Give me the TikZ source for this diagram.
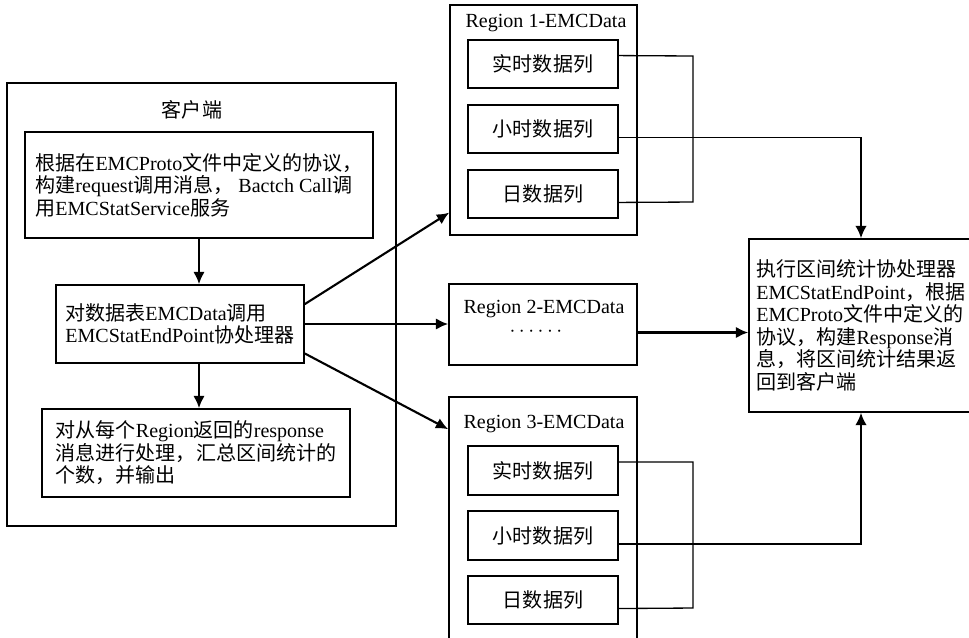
\documentclass[tikz,border=0pt]{standalone}
\usepackage{fontspec}
\usepackage{tikz}
\usetikzlibrary{calc,arrows.meta}
\setmainfont{Liberation Serif}
\newfontfamily\cjk{Noto Sans CJK SC}

% passage automatique a la fonte chinoise
\XeTeXinterchartokenstate=1
\newXeTeXintercharclass\zhclass
\newcount\zhcode
\def\zhrange#1#2{\zhcode=#1\relax
  \loop\XeTeXcharclass\zhcode=\zhclass
  \ifnum\zhcode<#2\advance\zhcode by 1\repeat}
\zhrange{"3000}{"303F}
\zhrange{"4E00}{"9FFF}
\zhrange{"FF00}{"FFEF}
\XeTeXinterchartoks 0 \zhclass = {\cjk}
\XeTeXinterchartoks 4095 \zhclass = {\cjk}
\XeTeXinterchartoks \zhclass 0 = {\rmfamily}
\XeTeXinterchartoks \zhclass 4095 = {\rmfamily}

\begin{document}
\begin{tikzpicture}[x=0.02cm, y=-0.02cm, font=\fontsize{11.4}{12.8}\selectfont]
			\tikzset{boite/.style={draw=black, line width=0.95pt, inner sep=0pt}, fleche/.style={>={Latex[length=7pt,width=6.5pt]}, ->, line width=1.2pt}, trait/.style={line width=0.75pt}};

			\useasboundingbox (0,0) rectangle (969,637);

			\node[boite, minimum width=7.78cm, minimum height=8.86cm] (client) at (201.5, 304.5) {};
			\node (titreclient) at (192, 110) {客户端};
			\node[boite, minimum width=6.96cm, minimum height=2.12cm, align=left] (proto) at (199, 185) {根据在EMCProto文件中定义的协议，\\构建request调用消息， Bactch Call调\\用EMCStatService服务};
			\node[boite, minimum width=4.96cm, minimum height=1.56cm, align=left] (appel) at (180, 324) {对数据表EMCData调用\\EMCStatEndPoint协处理器};
			\node[boite, minimum width=6.16cm, minimum height=1.76cm, align=left] (bilan) at (196, 453) {对从每个Region返回的response\\消息进行处理，汇总区间统计的\\个数，并输出};

			\node[boite, minimum width=3.74cm, minimum height=4.6cm] (reg1) at (543.5, 120) {};
			\node (titre1) at (546,  23) {Region 1-EMCData};
			\node[boite, minimum width=3cm, minimum height=0.96cm] (r1a) at (543,  64) {实时数据列};
			\node[boite, minimum width=3cm, minimum height=0.96cm] (r1b) at (543, 129) {小时数据列};
			\node[boite, minimum width=3cm, minimum height=0.96cm] (r1c) at (543, 194) {日数据列};

			\node[boite, minimum width=3.76cm, minimum height=1.62cm] (reg2) at (543, 324.5) {};
			\node (titre2) at (544, 309) {Region 2-EMCData};
			\node[font=\fontsize{12.5}{13}\selectfont] (points) at (536, 332) {$\cdots\cdots$};

			\node[boite, minimum width=3.76cm, minimum height=5.26cm] (reg3) at (543, 528.5) {};
			\node (titre3) at (544, 424) {Region 3-EMCData};
			\node[boite, minimum width=3cm, minimum height=0.97cm] (r3a) at (543, 470.5) {实时数据列};
			\node[boite, minimum width=3cm, minimum height=0.97cm] (r3b) at (543, 535.5) {小时数据列};
			\node[boite, minimum width=3cm, minimum height=0.97cm] (r3c) at (543, 600) {日数据列};

			\node[boite, minimum width=4.48cm, minimum height=3.46cm, align=left] (exec) at (861, 325.5) {执行区间统计协处理器\\EMCStatEndPoint，根据\\EMCProto文件中定义的\\协议，构建Response消\\息，将区间统计结果返\\回到客户端};

			% dans le client
			\draw[fleche] (proto.south) -- (proto.south |- appel.north);
			\draw[fleche] (appel.south -| proto.south) -- (proto.south |- bilan.north);

			% vers les regions
			\draw[fleche] ($(appel.north east)!0.25!(appel.south east)$) to ($(reg1.north west)!0.9!(reg1.south west)$);
			\draw[fleche] (appel.east) to (appel.east -| reg2.west);
			\draw[fleche] ($(appel.north east)!0.87!(appel.south east)$) to ($(reg3.north west)+(0,33)$);

			% colonnes de la region 1
			\coordinate (s1a) at ($(r1a.north east)!0.33!(r1a.south east)$);
			\coordinate (s1b) at ($(r1b.north east)!0.67!(r1b.south east)$);
			\coordinate (s1c) at ($(r1c.north east)!0.67!(r1c.south east)$);
			\draw[trait] (s1a) -- (693, 56) -- (693, 202) -- (s1c);
			\draw[fleche, line width=1pt] (s1b) -| (exec.north);

			% colonnes de la region 3
			\coordinate (s3a) at ($(r3a.north east)!0.33!(r3a.south east)$);
			\coordinate (s3b) at ($(r3b.north east)!0.67!(r3b.south east)$);
			\coordinate (s3c) at ($(r3c.north east)!0.67!(r3c.south east)$);
			\draw[trait] (s3a) -- (693, 462) -- (693, 608) -- (s3c);
			\draw[fleche, line width=1pt] (s3b) -| (exec.south);

			% region 2
			\coordinate (s2) at ($(reg2.east)+(0,8)$);
			\draw[fleche] (s2) -- (s2 -| exec.west);

		\end{tikzpicture}
\end{document}
